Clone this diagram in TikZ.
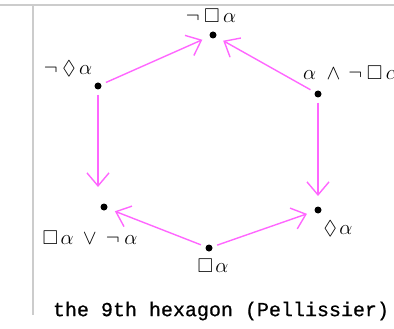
\documentclass[tikz,border=0pt]{standalone}
\usepackage{amssymb}
\usepackage{fontspec}
\newfontfamily\capfont{Liberation Mono}
\usetikzlibrary{arrows.meta}
\definecolor{hexpink}{RGB}{255,102,255}

\begin{document}
\begin{tikzpicture}[
  x=1pt, y=-1pt,
  dot/.style={circle, fill=black, inner sep=0pt, minimum size=7pt},
  lbl/.style={font=\fontsize{20}{24}\selectfont, inner sep=0pt},
  hexarrow/.style={draw=hexpink, line width=1.4pt,
                   -{Straight Barb[length=13pt,width=22pt]},
                   shorten <=5pt, shorten >=8pt},
  frame/.style={draw=black!20, line width=2pt}
]
\useasboundingbox (0,0) rectangle (394,329);
\clip (0,0) rectangle (394,329);

% page frame
\draw[frame] (0,5) -- (394,5);
\draw[frame] (33,5) -- (33,315);

% the six corners
\node[dot] (N)  at (213,35)  {};
\node[dot] (UL) at (98,86)   {};
\node[dot] (UR) at (318,94)  {};
\node[dot] (LL) at (104,207) {};
\node[dot] (LR) at (318,210) {};
\node[dot] (S)  at (209,248) {};

\node[lbl] (lN)  at (211,16)  {$\neg\mkern4mu\square\mkern3mu\alpha$};
\node[lbl] (lUL) at (68,69)   {$\neg\mkern4mu\Diamond\mkern3mu\alpha$};
\node[lbl, anchor=west] (lUR) at (303,73)
  {$\alpha\mkern5mu\wedge\mkern3mu\neg\mkern4mu\square\mkern3mu\alpha$};
\node[lbl] (lLL) at (90,238)  {$\square\mkern2mu\alpha\mkern4mu\vee\mkern4mu\neg\mkern4mu\alpha$};
\node[lbl] (lLR) at (338,229) {$\Diamond\mkern2mu\alpha$};
\node[lbl] (lS)  at (213,266) {$\square\mkern2mu\alpha$};

% arrows
\draw[hexarrow] (UL) -- (N);
\draw[hexarrow] (UR) -- (N);
\draw[hexarrow, shorten >=20pt] (UL) -- (UL |- LL);
\draw[hexarrow, shorten >=14pt] (UR) -- (UR |- LR);
\draw[hexarrow] (S) -- (LL);
\draw[hexarrow] (S) -- (LR);

\node[font=\capfont\fontsize{20}{22}\selectfont\addfontfeature{FakeBold=0.6}]
  (cap) at (221,311) {the 9th hexagon (Pellissier)};
\end{tikzpicture}
\end{document}
